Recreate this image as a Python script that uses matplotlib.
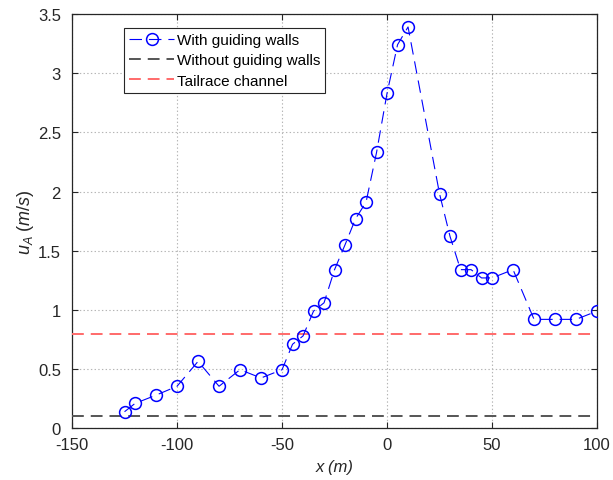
import matplotlib
matplotlib.use("Agg")
import matplotlib.pyplot as plt

x_pos = [-125, -120, -110, -100, -90, -80, -70, -60, -50, -45, -40, -35, -30, -25, -20, -15,
         -10, -5, 0, 5, 10, 25, 30, 35, 40, 45, 50, 60, 70, 80, 90, 100]
u_with = [0.14, 0.21, 0.28, 0.355, 0.565, 0.355, 0.495, 0.425, 0.495, 0.71, 0.78, 0.99, 1.06,
          1.34, 1.55, 1.77, 1.91, 2.33, 2.83, 3.24, 3.39, 1.98, 1.62, 1.34, 1.34, 1.27, 1.27,
          1.34, 0.92, 0.92, 0.92, 0.99]
u_without = 0.1
u_tailrace = 0.8
x_ticks = [-150, -100, -50, 0, 50, 100]
y_ticks = [0, 0.5, 1, 1.5, 2, 2.5, 3, 3.5]
y_ticklabels = ["0", "0.5", "1", "1.5", "2", "2.5", "3", "3.5"]

plt.rcParams['font.family'] = ['Liberation Sans', 'DejaVu Sans']
plt.rcParams['mathtext.fontset'] = 'custom'
plt.rcParams['mathtext.it'] = 'Liberation Sans:italic'
plt.rcParams['mathtext.rm'] = 'Liberation Sans'
plt.rcParams['lines.scale_dashes'] = False
plt.rcParams['axes.unicode_minus'] = False

fig = plt.figure(figsize=(6.13, 4.81), dpi=100)
ax = fig.add_axes([0.1175, 0.1075, 0.8565, 0.8615])

ax.plot(x_pos, u_with, color='#0000ff', lw=0.8, dashes=(9, 5), marker='o',
        markersize=8.5, markerfacecolor='none', markeredgecolor='#0000ff',
        markeredgewidth=1.1, label='With guiding walls', zorder=4)
ax.axhline(u_without, color='#555555', lw=1.4, dashes=(8.5, 5), label='Without guiding walls', zorder=3)
ax.axhline(u_tailrace, color='#ff6a6a', lw=1.4, dashes=(8.5, 5), label='Tailrace channel', zorder=3)

ax.set_xlim(-150, 100)
ax.set_ylim(0, 3.5)
ax.set_xticks(x_ticks)
ax.set_yticks(y_ticks)
ax.set_yticklabels(y_ticklabels)
ax.tick_params(direction='in', top=True, right=True, length=4, width=0.8,
               labelsize=12, colors='#262626', labelcolor='#262626')
ax.tick_params(axis='x', pad=6)
ax.tick_params(axis='y', pad=8)
ax.grid(True, color='#b5b5b5', linestyle=':', linewidth=0.8)
for s in ax.spines.values():
    s.set_color('#262626')
    s.set_linewidth(0.9)

ax.set_xlabel('x (m)', fontsize=12, style='italic', color='#262626', labelpad=5)
ax.set_ylabel(r'$u_A$ $\mathit{(m/s)}$', fontsize=13, color='#262626', labelpad=1)

leg = ax.legend(loc='upper left', bbox_to_anchor=(0.099, 0.967), fontsize=11,
                frameon=True, fancybox=False, framealpha=1, edgecolor='#262626',
                handlelength=2.9, handletextpad=0.2, borderpad=0.35, labelspacing=0.42,
                borderaxespad=0)
leg.get_frame().set_linewidth(0.8)

fig.savefig('out.png', dpi=100)
